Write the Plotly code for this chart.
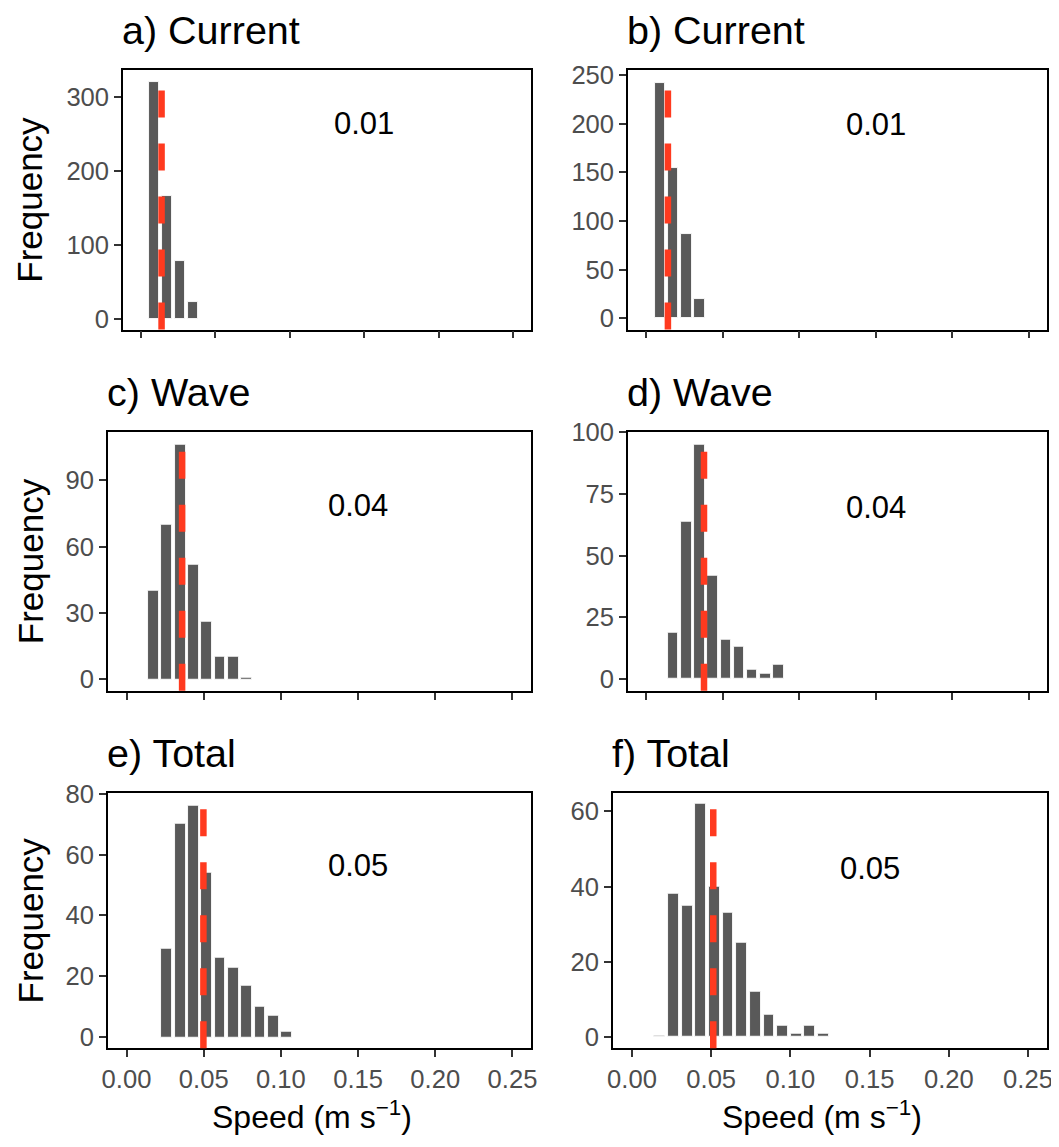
import plotly.graph_objects as go

# ---- data ----
bin_centers = [0.0089, 0.0175, 0.0261, 0.0348, 0.0434, 0.0520, 0.0606,
               0.0692, 0.0779, 0.0865, 0.0951, 0.1037, 0.1123, 0.1209]
bar_width = 0.0069

titles = ["a) Current", "b) Current", "c) Wave", "d) Wave", "e) Total", "f) Total"]
start_idx = [0, 0, 1, 1, 2, 1]
counts_a = [320, 166, 78, 22]
counts_b = [242, 154, 87, 20]
counts_c = [40, 70, 106, 52, 26, 10, 10, 0.6]
counts_d = [19, 64, 95, 42, 16, 13, 4, 2, 6]
counts_e = [29, 70, 76, 54, 26, 23, 17, 10, 7, 2]
counts_f = [0.35, 38, 35, 62, 40, 33, 25, 12, 6, 3, 1, 3, 1]
counts = [counts_a, counts_b, counts_c, counts_d, counts_e, counts_f]
mean_speed = [0.0139, 0.0141, 0.0360, 0.0377, 0.0498, 0.0513]
mean_label = ["0.01", "0.01", "0.04", "0.04", "0.05", "0.05"]
y_dtick = [100, 50, 30, 25, 20, 20]
y_ranges = [[-14.6, 336], [-11.5, 255], [-5.2, 112], [-4.7, 100.3], [-3.6, 80.3], [-3, 65]]
x_ticks = [0.00, 0.05, 0.10, 0.15, 0.20, 0.25]

# ---- layout geometry (reference pixels) ----
OFF = 8                      # page body margin offset
W, H = 1059 - OFF, 1147 - OFF
panels = [  # left, right, top, bottom
    (123, 531, 70, 329.5),
    (628, 1047, 70, 329.5),
    (108, 531, 431.7, 690.7),
    (628, 1047, 431.7, 690.7),
    (108, 531, 792.7, 1048.3),
    (613, 1047, 792.7, 1048.3),
]
label_y_px = [123, 125, 505, 507, 865, 868]


def px(x):
    return (x - OFF) / W


def py(y):
    return 1 - (y - OFF) / H


FONT = "Liberation Sans, Arial, Helvetica, sans-serif"
BAR = "#595959"
RED = "#ff3a1f"

fig = go.Figure()
layout = dict(
    width=W, height=H,
    margin=dict(l=0, r=0, t=0, b=0, autoexpand=False),
    paper_bgcolor="white", plot_bgcolor="white",
    showlegend=False,
    font=dict(family=FONT),
    bargap=0,
)
annotations = []
shapes = []

for i in range(6):
    n = i + 1
    xa = "x" if n == 1 else f"x{n}"
    ya = "y" if n == 1 else f"y{n}"
    xkey = "xaxis" if n == 1 else f"xaxis{n}"
    ykey = "yaxis" if n == 1 else f"yaxis{n}"
    l, r, t, b = panels[i]
    xs = bin_centers[start_idx[i]:start_idx[i] + len(counts[i])]
    fig.add_trace(go.Bar(
        x=xs, y=counts[i], width=bar_width, xaxis=xa, yaxis=ya,
        marker=dict(color=BAR, line=dict(color="white", width=0.9)),
        hoverinfo="x+y",
    ))
    bottom_row = i >= 4
    common = dict(
        ticks="outside", ticklen=7, tickwidth=2, tickcolor="#333333",
        showline=True, linecolor="black", linewidth=1.6, mirror=True,
        showgrid=False, zeroline=False, automargin=False,
        tickfont=dict(size=25.6, color="#4d4d4d", family=FONT),
    )
    layout[xkey] = dict(
        domain=[px(l), px(r)], anchor=ya,
        range=[-0.012, 0.262], tickvals=x_ticks,
        ticktext=[f"{v:.2f}" for v in x_ticks],
        showticklabels=bottom_row, **common,
    )
    layout[ykey] = dict(
        domain=[py(b), py(t)], anchor=xa,
        range=y_ranges[i], tick0=0, dtick=y_dtick[i], **common,
    )
    # mean line
    shapes.append(dict(
        type="line", xref=xa, yref=f"{ya} domain",
        x0=mean_speed[i], x1=mean_speed[i], y0=0, y1=1,
        line=dict(color=RED, width=6.5, dash="27px,26px"),
    ))
    # value label
    annotations.append(dict(
        x=0.15, xref=xa, y=py(label_y_px[i]), yref="paper",
        text=mean_label[i], showarrow=False, xanchor="center", yanchor="middle",
        font=dict(size=31, color="black", family=FONT),
    ))
    # panel title
    annotations.append(dict(
        x=px(l - 3), xref="paper", y=py(t - 40), yref="paper",
        text=titles[i], showarrow=False, xanchor="left", yanchor="middle",
        font=dict(size=39.5, color="black", family=FONT),
    ))
    # y-axis title on left column
    if i % 2 == 0:
        annotations.append(dict(
            x=px(30), xref="paper", y=py((t + b) / 2), yref="paper",
            text="Frequency", textangle=-90, showarrow=False,
            xanchor="center", yanchor="middle",
            font=dict(size=35, color="black", family=FONT),
        ))
    if bottom_row:
        annotations.append(dict(
            x=px((l + r) / 2 - 8), xref="paper", y=py(1115), yref="paper",
            text="Speed (m s<sup>\u22121</sup>)", showarrow=False,
            xanchor="center", yanchor="middle",
            font=dict(size=32, color="black", family=FONT),
        ))

layout["annotations"] = annotations
layout["shapes"] = shapes
fig.update_layout(**layout)
fig.write_html("out.html")
